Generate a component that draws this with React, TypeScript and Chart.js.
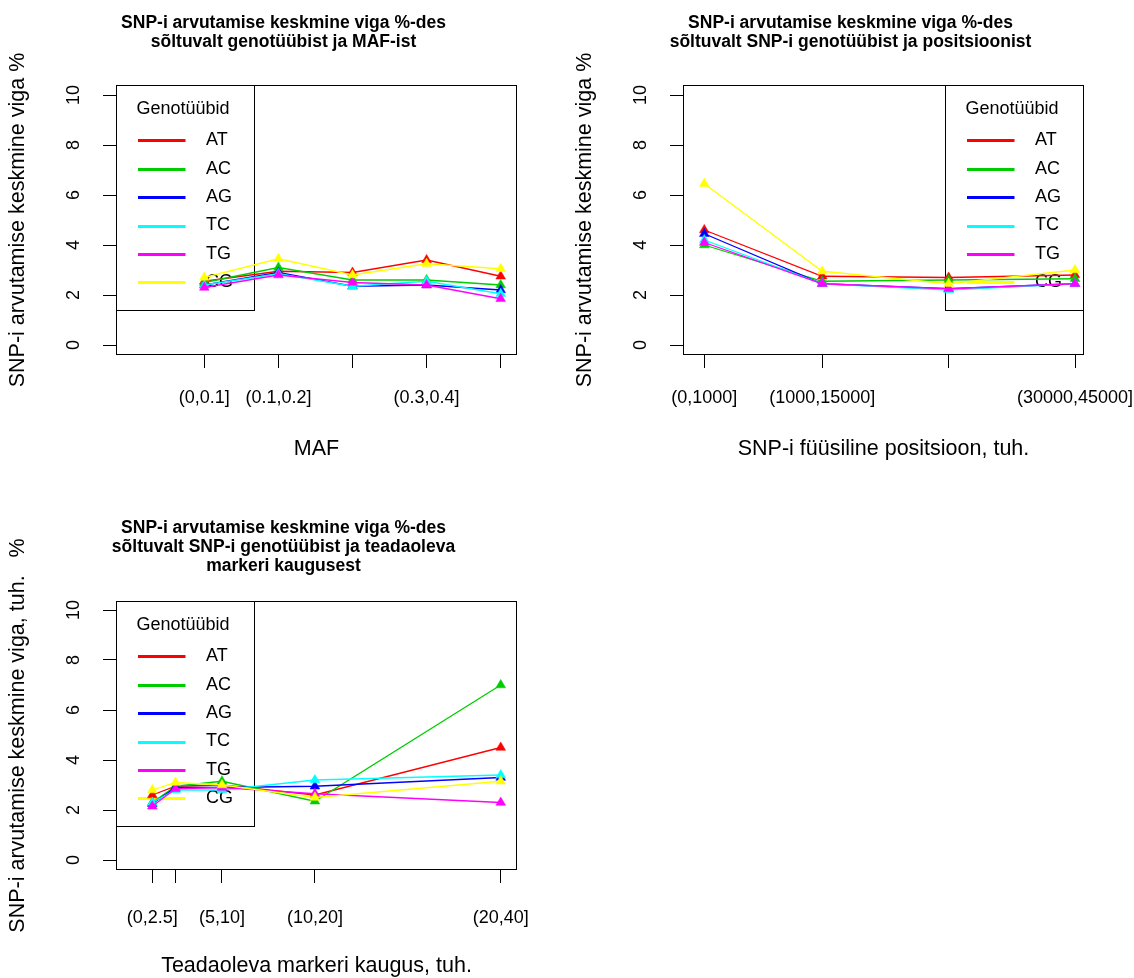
import React, { useEffect, useRef } from "react";
import { Chart, registerables } from "chart.js";

Chart.register(...registerables);

const FONT = '"Liberation Sans", Arial, Helvetica, sans-serif';

const GENOTYPES = ["AT", "AC", "AG", "TC", "TG", "CG"];
const COLORS = ["#FF0000", "#00CD00", "#0000FF", "#00FFFF", "#FF00FF", "#FFFF00"];
const LEGEND_TITLE = "Genotüübid";
const Y_TICKS = [0, 2, 4, 6, 8, 10];

// Panel 1: error by MAF
const MAF_X = [1, 2, 3, 4, 5];
const MAF_TICK_LABELS = ["(0,0.1]", "(0.1,0.2]", "", "(0.3,0.4]", ""];
const MAF_AT = [2.55, 2.95, 2.9, 3.4, 2.75];
const MAF_AC = [2.5, 3.1, 2.6, 2.6, 2.4];
const MAF_AG = [2.4, 2.9, 2.35, 2.4, 2.2];
const MAF_TC = [2.4, 2.85, 2.35, 2.55, 2.05];
const MAF_TG = [2.3, 2.8, 2.5, 2.4, 1.85];
const MAF_CG = [2.7, 3.45, 2.8, 3.25, 3.05];

// Panel 2: error by physical position (thousands)
const POS_X = [1000, 15000, 30000, 45000];
const POS_TICK_LABELS = ["(0,1000]", "(1000,15000]", "", "(30000,45000]"];
const POS_AT = [4.6, 2.75, 2.7, 2.8];
const POS_AC = [4.0, 2.55, 2.6, 2.65];
const POS_AG = [4.45, 2.45, 2.25, 2.45];
const POS_TC = [4.2, 2.45, 2.2, 2.45];
const POS_TG = [4.1, 2.45, 2.25, 2.45];
const POS_CG = [6.45, 2.95, 2.45, 3.0];

// Panel 3: error by distance to known marker (thousands)
const DIST_X = [2.5, 5, 10, 20, 40];
const DIST_TICK_LABELS = ["(0,2.5]", "", "(5,10]", "(10,20]", "(20,40]"];
const DIST_AT = [2.6, 2.95, 3.0, 2.6, 4.5];
const DIST_AC = [2.3, 2.95, 3.15, 2.35, 7.0];
const DIST_AG = [2.25, 2.9, 2.9, 2.95, 3.3];
const DIST_TC = [2.3, 2.8, 2.8, 3.2, 3.4];
const DIST_TG = [2.15, 2.85, 2.9, 2.65, 2.3];
const DIST_CG = [2.8, 3.1, 3.0, 2.5, 3.15];

type Panel = {
  title: string[];
  xTitle: string;
  yTitle: string;
  xs: number[];
  tickLabels: string[];
  series: number[][];
  xMin: number;
  xMax: number;
  yMin: number;
  yMax: number;
  titlePad: { top: number; bottom: number };
  xAxisHeight: number;
  xTickPad: number;
  xTitlePad: number;
  legendSide: "left" | "right";
};

const PANEL_MAF: Panel = {
  title: ["SNP-i arvutamise keskmine viga %-des", "sõltuvalt genotüübist ja MAF-ist"],
  xTitle: "MAF",
  yTitle: "SNP-i arvutamise keskmine viga %",
  xs: MAF_X,
  tickLabels: MAF_TICK_LABELS,
  series: [MAF_AT, MAF_AC, MAF_AG, MAF_TC, MAF_TG, MAF_CG],
  xMin: -0.192,
  xMax: 5.22,
  yMin: -0.4,
  yMax: 10.4,
  titlePad: { top: 13.5, bottom: 33.7 },
  xAxisHeight: 134,
  xTickPad: 19,
  xTitlePad: 27.3,
  legendSide: "left",
};

const PANEL_POS: Panel = {
  title: ["SNP-i arvutamise keskmine viga %-des", "sõltuvalt SNP-i genotüübist ja positsioonist"],
  xTitle: "SNP-i füüsiline positsioon, tuh.",
  yTitle: "SNP-i arvutamise keskmine viga %",
  xs: POS_X,
  tickLabels: POS_TICK_LABELS,
  series: [POS_AT, POS_AC, POS_AG, POS_TC, POS_TG, POS_CG],
  xMin: -1528,
  xMax: 46068,
  yMin: -0.4,
  yMax: 10.4,
  titlePad: { top: 13.5, bottom: 33.7 },
  xAxisHeight: 134,
  xTickPad: 19,
  xTitlePad: 27.3,
  legendSide: "right",
};

const PANEL_DIST: Panel = {
  title: [
    "SNP-i arvutamise keskmine viga %-des",
    "sõltuvalt SNP-i genotüübist ja teadaoleva",
    "markeri kaugusest",
  ],
  xTitle: "Teadaoleva markeri kaugus, tuh.",
  yTitle: "SNP-i arvutamise keskmine viga, tuh.   %",
  xs: DIST_X,
  tickLabels: DIST_TICK_LABELS,
  series: [DIST_AT, DIST_AC, DIST_AG, DIST_TC, DIST_TG, DIST_CG],
  xMin: -1.407,
  xMax: 41.75,
  yMin: -0.4,
  yMax: 10.36,
  titlePad: { top: 29.5, bottom: 25.8 },
  xAxisHeight: 108,
  xTickPad: 24,
  xTitlePad: -1,
  legendSide: "left",
};

const rPlot = {
  id: "rPlot",
  beforeDatasetsDraw(chart: any, _args: any, opts: any) {
    const { ctx, chartArea } = chart;
    const w = 139;
    const h = 226;
    const left = opts.legendSide === "left" ? chartArea.left : chartArea.right - w;
    const top = chartArea.top;
    ctx.save();
    ctx.strokeStyle = "#000";
    ctx.lineWidth = 1;
    ctx.strokeRect(Math.round(left) + 0.5, Math.round(top) + 0.5, w - 1, h - 1);
    ctx.font = `18px ${FONT}`;
    ctx.fillStyle = "#000";
    ctx.textBaseline = "middle";
    ctx.textAlign = "center";
    ctx.fillText(LEGEND_TITLE, left + 67, top + 24);
    ctx.textAlign = "left";
    GENOTYPES.forEach((g, i) => {
      const y = top + 55.3 + i * 28.4;
      ctx.strokeStyle = COLORS[i];
      ctx.lineWidth = 3;
      ctx.beginPath();
      ctx.moveTo(left + 22, Math.round(y) + 0.5);
      ctx.lineTo(left + 69.5, Math.round(y) + 0.5);
      ctx.stroke();
      ctx.fillText(g, left + 90, y);
    });
    ctx.restore();
  },
  afterDatasetsDraw(chart: any) {
    const { ctx, chartArea } = chart;
    ctx.save();
    ctx.strokeStyle = "#000";
    ctx.lineWidth = 1;
    ctx.strokeRect(
      Math.round(chartArea.left) + 0.5,
      Math.round(chartArea.top) + 0.5,
      Math.round(chartArea.right - chartArea.left) - 1,
      Math.round(chartArea.bottom - chartArea.top) - 1
    );
    ctx.restore();
  },
  afterDraw(chart: any, _args: any, opts: any) {
    const { ctx, chartArea } = chart;
    ctx.save();
    ctx.translate(18, (chartArea.top + chartArea.bottom) / 2);
    ctx.rotate(-Math.PI / 2);
    ctx.font = `21.5px ${FONT}`;
    ctx.fillStyle = "#000";
    ctx.textAlign = "center";
    ctx.textBaseline = "middle";
    ctx.fillText(opts.yTitle, 0, 0);
    ctx.restore();
  },
};

function buildConfig(p: Panel): any {
  return {
    type: "line",
    data: {
      datasets: GENOTYPES.map((g, i) => ({
        label: g,
        data: p.xs.map((x, j) => ({ x, y: p.series[i][j] })),
        borderColor: COLORS[i],
        backgroundColor: COLORS[i],
        pointBackgroundColor: COLORS[i],
        pointBorderColor: COLORS[i],
        borderWidth: 1.3,
        pointStyle: "triangle",
        pointRadius: 5.6,
        pointBorderWidth: 0.5,
        tension: 0,
        fill: false,
        order: GENOTYPES.length - i,
      })),
    },
    options: {
      responsive: false,
      animation: false,
      events: [],
      layout: { padding: { left: 50, right: 50, top: 0, bottom: 0 } },
      plugins: {
        legend: { display: false },
        tooltip: { enabled: false },
        title: {
          display: true,
          text: p.title,
          color: "#000",
          font: { family: FONT, size: 17.5, weight: "bold", lineHeight: 1.08 },
          padding: p.titlePad,
        },
        rPlot: { legendSide: p.legendSide, yTitle: p.yTitle },
      },
      scales: {
        x: {
          type: "linear",
          min: p.xMin,
          max: p.xMax,
          afterBuildTicks: (s: any) => {
            s.ticks = p.xs.map((v) => ({ value: v }));
          },
          afterFit: (s: any) => {
            s.height = p.xAxisHeight;
            s.paddingLeft = 0;
            s.paddingRight = 0;
            s.paddingTop = 0;
            s.paddingBottom = 0;
          },
          ticks: {
            autoSkip: false,
            maxRotation: 0,
            minRotation: 0,
            padding: p.xTickPad,
            color: "#000",
            font: { family: FONT, size: 18, lineHeight: 1.2 },
            callback: (_v: any, idx: number) => p.tickLabels[idx],
          },
          grid: {
            display: true,
            drawOnChartArea: false,
            drawTicks: true,
            tickLength: 13,
            color: "#000",
            lineWidth: 1,
          },
          border: { display: false },
          title: {
            display: true,
            text: p.xTitle,
            color: "#000",
            font: { family: FONT, size: 21.5, lineHeight: 1.2 },
            padding: { top: 0, bottom: p.xTitlePad },
          },
        },
        y: {
          type: "linear",
          min: p.yMin,
          max: p.yMax,
          afterBuildTicks: (s: any) => {
            s.ticks = Y_TICKS.map((v) => ({ value: v }));
          },
          afterFit: (s: any) => {
            s.width = 66;
            s.paddingLeft = 0;
            s.paddingRight = 0;
            s.paddingTop = 0;
            s.paddingBottom = 0;
          },
          ticks: {
            autoSkip: false,
            minRotation: 90,
            maxRotation: 90,
            crossAlign: "center",
            padding: 19,
            color: "#000",
            font: { family: FONT, size: 18, lineHeight: 1.2 },
            callback: (v: any) => String(v),
          },
          grid: {
            display: true,
            drawOnChartArea: false,
            drawTicks: true,
            tickLength: 13,
            color: "#000",
            lineWidth: 1,
          },
          border: { display: false },
        },
      },
    },
    plugins: [rPlot],
  };
}

function ChartPanel({ panel, left, top }: { panel: Panel; left: number; top: number }) {
  const ref = useRef<HTMLCanvasElement>(null);
  useEffect(() => {
    const chart = new Chart(ref.current as HTMLCanvasElement, buildConfig(panel));
    return () => chart.destroy();
  }, [panel]);
  return (
    <canvas
      ref={ref}
      width={567}
      height={489}
      style={{ position: "absolute", left, top, width: 567, height: 489 }}
    />
  );
}

export default function App() {
  return (
    <div
      style={{
        position: "absolute",
        left: 0,
        top: 0,
        width: 1134,
        height: 978,
        background: "#fff",
        overflow: "hidden",
      }}
    >
      <ChartPanel panel={PANEL_MAF} left={0} top={0} />
      <ChartPanel panel={PANEL_POS} left={567} top={0} />
      <ChartPanel panel={PANEL_DIST} left={0} top={489} />
    </div>
  );
}
